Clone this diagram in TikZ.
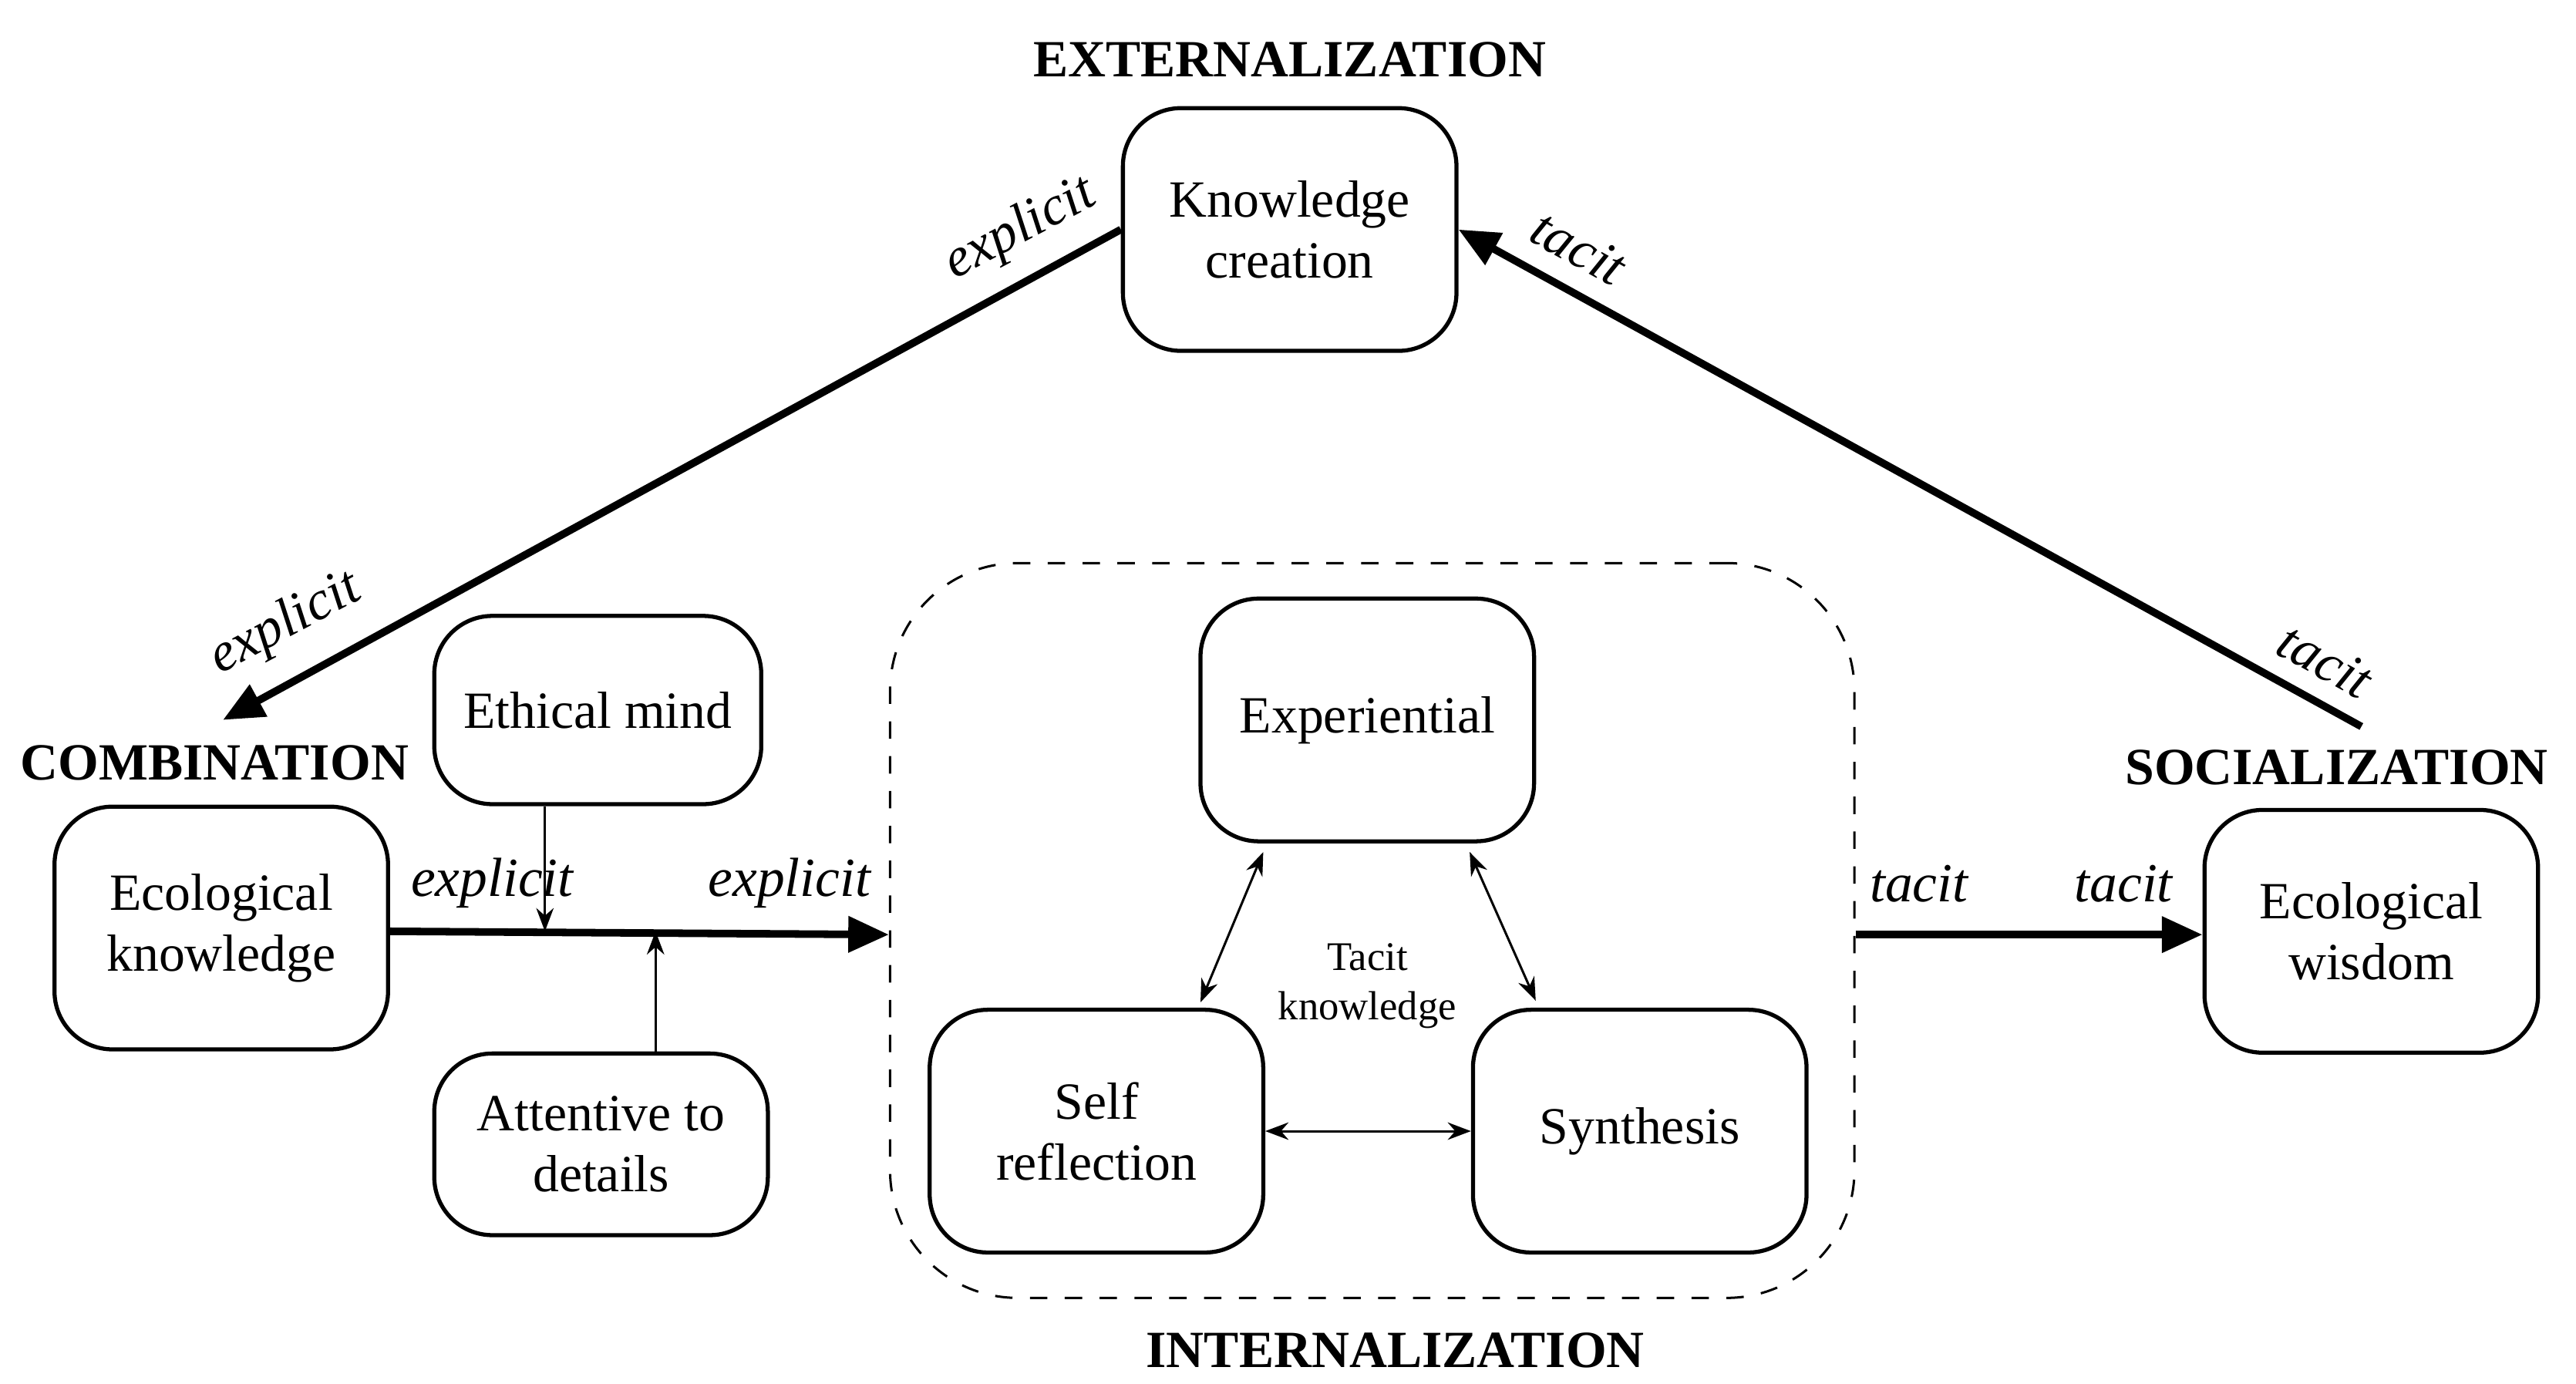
\documentclass[tikz,border=0pt]{standalone}
\usepackage{fontspec}
\setmainfont{Liberation Serif}
\usetikzlibrary{arrows.meta}
\tikzset{box/.style={draw, rounded corners=10pt, line width=0.7pt, align=center, minimum width=2.02cm, minimum height=1.47cm, font=\fontsize{9}{10.5}\selectfont},
  stage/.style={font=\bfseries\fontsize{9}{11}\selectfont},
  flow/.style={line width=1.3pt, -{Triangle[length=7pt,width=6pt]}},
  thin/.style={line width=0.4pt, -{Stealth[length=4pt]}},
  both/.style={line width=0.4pt, {Stealth[length=4pt]}-{Stealth[length=4pt]}},
  lbl/.style={font=\itshape\fontsize{9.5}{11}\selectfont}}
\begin{document}
\begin{tikzpicture}
    \useasboundingbox (0,0) rectangle (15.6,8.38);
    \node[box] (kc) at (7.81, 6.99)   {Knowledge\\creation};
    \node[box] (ek) at (1.34, 2.76)   {Ecological\\knowledge};
    \node[box, minimum width=1.98cm, minimum height=1.14cm] (em) at (3.62, 4.08) {Ethical mind};
    \node[box, minimum height=1.10cm] (at) at (3.64, 1.45) {Attentive to\\details};
    \node[box] (ex) at (8.28, 4.02)   {Experiential};
    \node[box] (sr) at (6.64, 1.53)   {Self\\reflection};
    \node[box] (sy) at (9.93, 1.53)   {Synthesis};
    \node[box] (ew) at (14.36, 2.74)  {Ecological\\wisdom};
    \node[draw, dashed, rounded corners=22pt, minimum width=5.84cm, minimum height=4.45cm] (in) at (8.31, 2.745) {};
    
    \node[stage] at (7.81, 8.02) {EXTERNALIZATION};
    \node[stage] at (1.30, 3.76) {COMBINATION};
    \node[stage] at (14.15, 3.73) {SOCIALIZATION};
    \node[stage] at (8.45, 0.20) {INTERNALIZATION};
    \node[align=center, font=\fontsize{7}{8.5}\selectfont] (tk) at (8.28, 2.41) {Tacit\\knowledge};
    
    \coordinate (so) at (14.30, 3.98);
    \coordinate (co) at (1.35, 4.02);
    \coordinate (jl) at (3.30, 2.74);
    \coordinate (jr) at (3.97, 2.74);
    
    \draw[flow] (kc.west) -- (co);
    \draw[flow] (so) -- (kc.east);
    \draw[flow] (ek.east |- 0,2.74) -- (in.west |- 0,2.72);
    \draw[flow] (in.east |- 0,2.72) -- (ew.west |- 0,2.72);
    \draw[thin] (em.south -| jl) -- (jl);
    \draw[thin] (at.north -| jr) -- (jr);
    \draw[both] (7.65, 3.22) -- (7.27, 2.31);
    \draw[both] (8.90, 3.22) -- (9.30, 2.32);
    \draw[both] (sr.east) -- (sy.west);
    
    \node[lbl, rotate=28] at (6.18, 6.99) {explicit};
    \node[lbl, rotate=28] at (1.73, 4.60) {explicit};
    \node[lbl, rotate=-29] at (9.56, 6.88) {tacit};
    \node[lbl, rotate=-29] at (14.08, 4.38) {tacit};
    \node[lbl] at (2.98, 3.03) {explicit};
    \node[lbl] at (4.78, 3.03) {explicit};
    \node[lbl] at (11.62, 3.03) {tacit};
    \node[lbl] at (12.86, 3.03) {tacit};
\end{tikzpicture}
\end{document}
